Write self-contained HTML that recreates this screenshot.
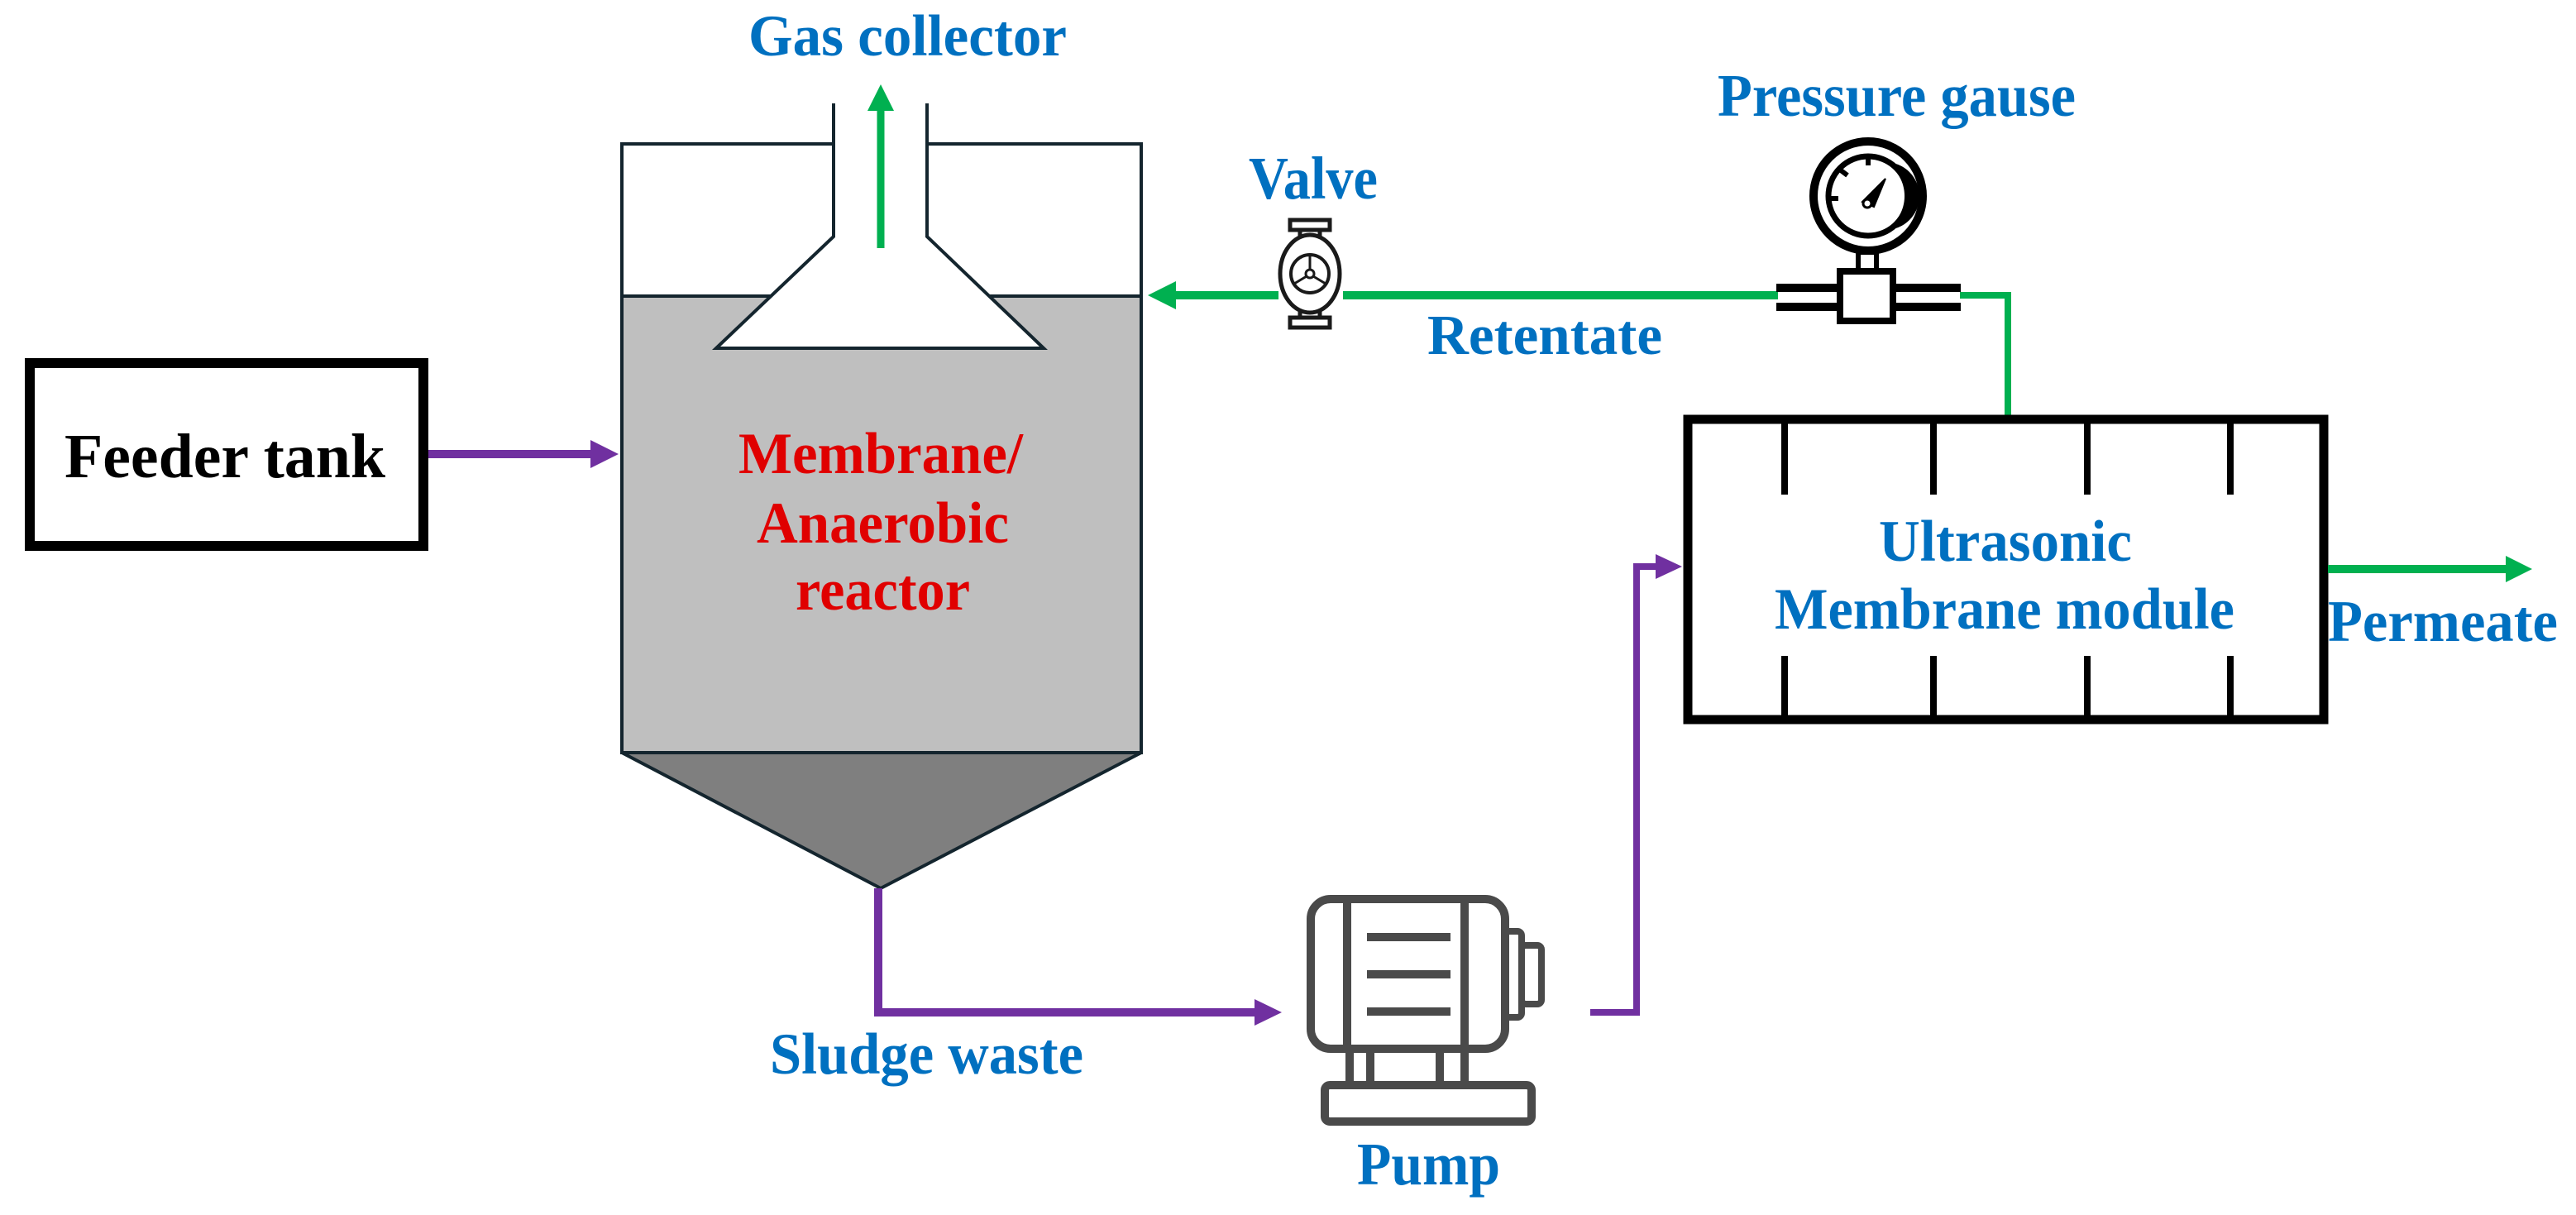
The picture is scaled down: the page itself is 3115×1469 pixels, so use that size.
<!DOCTYPE html>
<html><head><meta charset="utf-8"><style>
html,body{margin:0;padding:0;background:#fff}
svg{display:block}
text{font-family:"Liberation Serif",serif;font-weight:bold}
.b{fill:#0070c0}
</style></head><body>
<svg width="3115" height="1469" viewBox="0 0 3115 1469" xmlns="http://www.w3.org/2000/svg">
<!-- Feeder tank -->
<rect x="36" y="439" width="476" height="221" fill="#fff" stroke="#000" stroke-width="12"/>
<text x="78" y="577" font-size="76" textLength="388" lengthAdjust="spacingAndGlyphs">Feeder tank</text>
<!-- feeder arrow -->
<line x1="518" y1="549" x2="718" y2="549" stroke="#7030a0" stroke-width="10"/>
<polygon points="714,532 748,549 714,566" fill="#7030a0"/>

<!-- Reactor -->
<rect x="752" y="358" width="628" height="552" fill="#bfbfbf"/>
<polygon points="752,910 1380,910 1065,1074" fill="#7f7f7f" stroke="#14252e" stroke-width="4" stroke-linejoin="round"/>
<path d="M1008,174 L752,174 L752,910 L1380,910 L1380,174 L1121,174" fill="none" stroke="#14252e" stroke-width="4"/>
<line x1="752" y1="358" x2="1380" y2="358" stroke="#14252e" stroke-width="4"/>
<polygon points="1008,125 1008,286 866,421 1262,421 1121,286 1121,125" fill="#fff" stroke="none"/>
<path d="M1008,125 L1008,286 L866,421 L1262,421 L1121,286 L1121,125" fill="none" stroke="#14252e" stroke-width="4"/>
<!-- gas arrow -->
<line x1="1065" y1="300" x2="1065" y2="130" stroke="#00b050" stroke-width="9"/>
<polygon points="1049,134 1065,102 1081,134" fill="#00b050"/>
<text class="b" x="905" y="67" font-size="71" textLength="385" lengthAdjust="spacingAndGlyphs">Gas collector</text>
<text x="893" y="572" font-size="71" fill="#e00000" textLength="344" lengthAdjust="spacingAndGlyphs">Membrane/</text>
<text x="915" y="656" font-size="71" fill="#e00000" textLength="305" lengthAdjust="spacingAndGlyphs">Anaerobic</text>
<text x="962" y="737" font-size="71" fill="#e00000" textLength="211" lengthAdjust="spacingAndGlyphs">reactor</text>

<!-- Retentate line -->
<line x1="1420" y1="357" x2="1546" y2="357" stroke="#00b050" stroke-width="10"/>
<polygon points="1422,340 1388,357 1422,374" fill="#00b050"/>
<line x1="1624" y1="357" x2="2150" y2="357" stroke="#00b050" stroke-width="10"/>
<polyline points="2370,357 2428,357 2428,503" fill="none" stroke="#00b050" stroke-width="8"/>
<text class="b" x="1726" y="428" font-size="69" textLength="284" lengthAdjust="spacingAndGlyphs">Retentate</text>

<!-- Valve -->
<g stroke="#1a1a1a" fill="#fff">
<rect x="1560" y="266" width="48" height="12" stroke-width="5"/>
<rect x="1560" y="384" width="48" height="12" stroke-width="5"/>
<line x1="1572" y1="278" x2="1572" y2="290" stroke-width="5"/>
<line x1="1596" y1="278" x2="1596" y2="290" stroke-width="5"/>
<line x1="1572" y1="372" x2="1572" y2="384" stroke-width="5"/>
<line x1="1596" y1="372" x2="1596" y2="384" stroke-width="5"/>
<ellipse cx="1584" cy="331" rx="36" ry="47" stroke-width="5"/>
<circle cx="1584" cy="331" r="23" stroke-width="4"/>
<circle cx="1584" cy="331" r="5" stroke-width="3"/>
<line x1="1584" y1="326" x2="1584" y2="308" stroke-width="3"/>
<line x1="1588" y1="334" x2="1603" y2="343" stroke-width="3"/>
<line x1="1580" y1="334" x2="1565" y2="343" stroke-width="3"/>
</g>
<text class="b" x="1510" y="240" font-size="73" textLength="156" lengthAdjust="spacingAndGlyphs">Valve</text>

<!-- Pressure gauge -->
<g stroke="#000" fill="#fff">
<circle cx="2259" cy="237" r="66" stroke-width="10"/>
<circle cx="2259" cy="237" r="48" stroke-width="7"/>
<path d="M2280,196 A48,48 0 0 1 2280,278 A40,40 0 0 0 2280,196 Z" fill="#000" stroke="none"/>
<rect x="2247" y="305" width="22" height="22" stroke-width="6"/>
<rect x="2148" y="343" width="223" height="10" fill="#000" stroke="none"/>
<rect x="2148" y="366" width="223" height="10" fill="#000" stroke="none"/>
<rect x="2225" y="328" width="64" height="60" stroke-width="8"/>
<line x1="2259" y1="190" x2="2259" y2="200" stroke-width="6"/>
<line x1="2226" y1="206" x2="2234" y2="212" stroke-width="6"/>
<line x1="2213" y1="240" x2="2223" y2="240" stroke-width="6"/>
<polygon points="2252,244 2280,216 2266,250" fill="#000" stroke-width="2"/>
<circle cx="2258" cy="246" r="5" fill="#fff" stroke-width="3"/>
</g>
<text class="b" x="2077" y="140" font-size="73" textLength="433" lengthAdjust="spacingAndGlyphs">Pressure gause</text>

<!-- Membrane module -->
<rect x="2041" y="507" width="769" height="363" fill="#fff" stroke="#000" stroke-width="11"/>
<g stroke="#000" stroke-width="8">
<line x1="2158" y1="507" x2="2158" y2="598"/><line x1="2338" y1="507" x2="2338" y2="598"/>
<line x1="2524" y1="507" x2="2524" y2="598"/><line x1="2697" y1="507" x2="2697" y2="598"/>
<line x1="2158" y1="793" x2="2158" y2="870"/><line x1="2338" y1="793" x2="2338" y2="870"/>
<line x1="2524" y1="793" x2="2524" y2="870"/><line x1="2697" y1="793" x2="2697" y2="870"/>
</g>
<text class="b" x="2272" y="678" font-size="71" textLength="306" lengthAdjust="spacingAndGlyphs">Ultrasonic</text>
<text class="b" x="2146" y="760" font-size="71" textLength="556" lengthAdjust="spacingAndGlyphs">Membrane module</text>
<!-- permeate -->
<line x1="2815" y1="688" x2="3034" y2="688" stroke="#00b050" stroke-width="10"/>
<polygon points="3030,672 3062,688 3030,704" fill="#00b050"/>
<text class="b" x="2815" y="775" font-size="71" textLength="278" lengthAdjust="spacingAndGlyphs">Permeate</text>

<!-- Sludge line -->
<polyline points="1062,1074 1062,1224 1520,1224" fill="none" stroke="#7030a0" stroke-width="10"/>
<polygon points="1517,1208 1550,1224 1517,1240" fill="#7030a0"/>
<text class="b" x="931" y="1298" font-size="71" textLength="379" lengthAdjust="spacingAndGlyphs">Sludge waste</text>
<!-- pump to module -->
<polyline points="1923,1224 1979,1224 1979,685 2005,685" fill="none" stroke="#7030a0" stroke-width="8"/>
<polygon points="2002,670 2034,685 2002,700" fill="#7030a0"/>

<!-- Pump -->
<g stroke="#4a4a4a" fill="none" stroke-width="10">
<rect x="1585" y="1087" width="235" height="181" rx="24"/>
<line x1="1629" y1="1087" x2="1629" y2="1268"/>
<line x1="1771" y1="1087" x2="1771" y2="1268"/>
<line x1="1653" y1="1133" x2="1754" y2="1133"/>
<line x1="1653" y1="1178" x2="1754" y2="1178"/>
<line x1="1653" y1="1223" x2="1754" y2="1223"/>
<rect x="1820" y="1126" width="20" height="104" rx="5" stroke-width="8"/>
<rect x="1840" y="1143" width="24" height="71" rx="5" stroke-width="8"/>
<line x1="1632" y1="1268" x2="1632" y2="1312"/>
<line x1="1657" y1="1268" x2="1657" y2="1312"/>
<line x1="1741" y1="1268" x2="1741" y2="1312"/>
<line x1="1771" y1="1268" x2="1771" y2="1312"/>
<rect x="1602" y="1312" width="250" height="44" rx="6"/>
</g>
<text class="b" x="1641" y="1432" font-size="73" textLength="173" lengthAdjust="spacingAndGlyphs">Pump</text>
</svg>
</body></html>
